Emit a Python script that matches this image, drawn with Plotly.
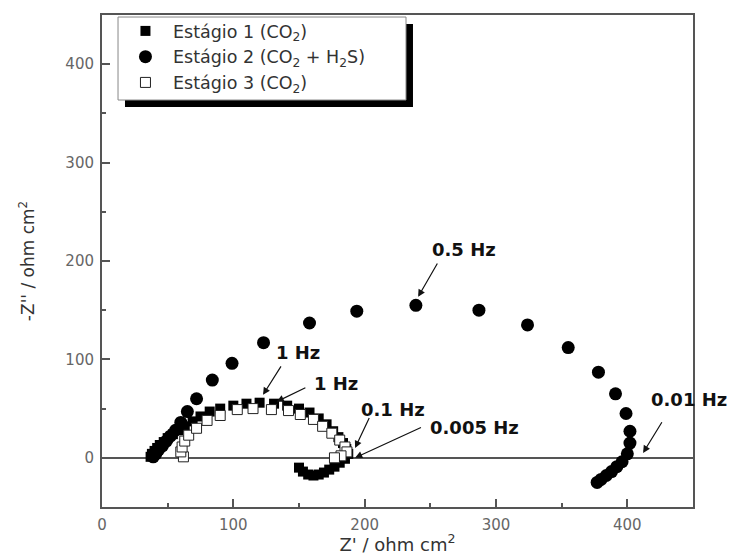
import plotly.graph_objects as go

# Estágio 1 (CO2) - filled squares
s1_x = [37, 38, 40, 42, 44, 47, 50, 54, 58, 63, 69, 75, 82, 90, 100, 110, 120, 131, 141, 150,
        158, 165, 171, 176, 180, 183.5, 186, 187.5, 185, 181, 177, 173, 169, 165, 161, 157, 153, 150]
s1_y = [1, 4, 7, 10, 13, 16, 20, 24, 28, 32, 37, 42, 47, 50, 53, 55, 56, 55, 53, 50,
        46, 40, 34, 27, 21, 15, 9, 4, -1, -5, -9, -12, -15, -17, -18, -17, -14, -10]

# Estágio 2 (CO2 + H2S) - filled circles
s2_x = [39, 41, 43, 46, 49, 52, 56, 60, 65, 72, 84, 99, 123, 158, 194, 239, 287, 324, 355, 378,
        391, 399, 402, 402, 400, 396, 392, 388, 384, 380, 377]
s2_y = [1, 4, 8, 12, 17, 22, 28, 36, 47, 60, 79, 96, 117, 137, 149, 155, 150, 135, 112, 87,
        65, 45, 27, 15, 4, -4, -9, -14, -18, -22, -25]

# Estágio 3 (CO2) - open squares
s3_x = [62, 60, 61, 63, 66, 72, 80, 90, 103, 115, 129, 142, 151, 161, 168, 175, 181, 185, 186.5, 182, 177]
s3_y = [1, 6, 11, 17, 23, 30, 38, 43, 49, 50, 49, 48, 44, 39, 32, 25, 18, 11, 6, 2, 0]

names = ["Estágio 1 (CO<sub>2</sub>)",
         "Estágio 2 (CO<sub>2</sub> + H<sub>2</sub>S)",
         "Estágio 3 (CO<sub>2</sub>)"]

# frequency labels: text, arrow tip (x, y), arrow tail (x, y), text centre (x, y)
freq_text = ["0.5 Hz", "1 Hz", "1 Hz", "0.1 Hz", "0.005 Hz", "0.01 Hz"]
tip_x = [240.7, 122.6, 133, 192.7, 192.7, 412]
tip_y = [163.6, 64, 57, 10, 0, 5]
tail_x = [256, 137, 156, 204, 244, 427]
tail_y = [199, 94.5, 72, 42, 31.5, 37.6]
lab_x = [276, 149, 178, 221.6, 283.7, 446.6]
lab_y = [212, 107, 76, 49, 30.5, 59]

x_ticks = [0, 100, 200, 300, 400]
y_ticks = [0, 100, 200, 300, 400]

fig = go.Figure()
fig.add_trace(go.Scatter(x=s1_x, y=s1_y, mode="markers", name=names[0],
                         marker=dict(symbol="square", size=10, color="black")))
fig.add_trace(go.Scatter(x=s2_x, y=s2_y, mode="markers", name=names[1],
                         marker=dict(symbol="circle", size=13, color="black")))
fig.add_trace(go.Scatter(x=s3_x, y=s3_y, mode="markers", name=names[2],
                         marker=dict(symbol="square", size=10, color="white",
                                     line=dict(color="#222", width=1))))

ann = []
for i in range(len(freq_text)):
    ann.append(dict(x=tip_x[i], y=tip_y[i], ax=tail_x[i], ay=tail_y[i], xref="x", yref="y",
                    axref="x", ayref="y", text="", showarrow=True, arrowhead=2,
                    arrowsize=1.2, arrowwidth=1.2, arrowcolor="#111", standoff=0, startstandoff=0))
    ann.append(dict(x=lab_x[i], y=lab_y[i], xref="x", yref="y", text="<b>" + freq_text[i] + "</b>",
                    showarrow=False, xanchor="center", yanchor="middle",
                    font=dict(family="DejaVu Sans", size=18, color="#111")))

axis_common = dict(showline=True, linecolor="#555", linewidth=2, mirror=True,
                   ticks="inside", ticklen=8, tickwidth=2, tickcolor="#555",
                   showgrid=False, tickfont=dict(family="DejaVu Sans", size=15, color="#666"),
                   ticklabelstandoff=3)

fig.update_layout(
    width=733, height=555,
    margin=dict(l=102, r=40, t=15, b=48),
    plot_bgcolor="white", paper_bgcolor="white",
    showlegend=True,
    legend=dict(x=0.027, y=1.004, xanchor="left", yanchor="top", bgcolor="rgba(0,0,0,0)",
                borderwidth=0, tracegroupgap=0, itemwidth=45,
                font=dict(family="DejaVu Sans", size=17.5, color="#333")),
    xaxis=dict(range=[0, 450], tickvals=x_ticks, zeroline=False, automargin=False,
               minor=dict(dtick=50, ticks="inside", ticklen=4, tickwidth=2, tickcolor="#555"),
               title=dict(text="Z' / ohm cm<sup>2</sup>", standoff=4,
                          font=dict(family="DejaVu Sans", size=18, color="#333")),
               **axis_common),
    yaxis=dict(range=[-50, 450], tickvals=y_ticks, zeroline=True, zerolinecolor="#555",
               zerolinewidth=1.5, automargin=False,
               minor=dict(dtick=50, ticks="inside", ticklen=4, tickwidth=2, tickcolor="#555"),
               title=dict(text="-Z'' / ohm cm<sup>2</sup>", standoff=26,
                          font=dict(family="DejaVu Sans", size=17, color="#333")),
               **axis_common),
    annotations=ann,
    shapes=[
        dict(type="rect", xref="paper", yref="paper", x0=0.0389, x1=0.5262, y0=0.813, y1=0.9817,
             fillcolor="black", line=dict(width=0), layer="above"),
        dict(type="rect", xref="paper", yref="paper", x0=0.0271, x1=0.5144, y0=0.8272, y1=0.9959,
             fillcolor="white", line=dict(width=1, color="#888"), layer="above"),
    ],
)

fig.write_html("out.html")
